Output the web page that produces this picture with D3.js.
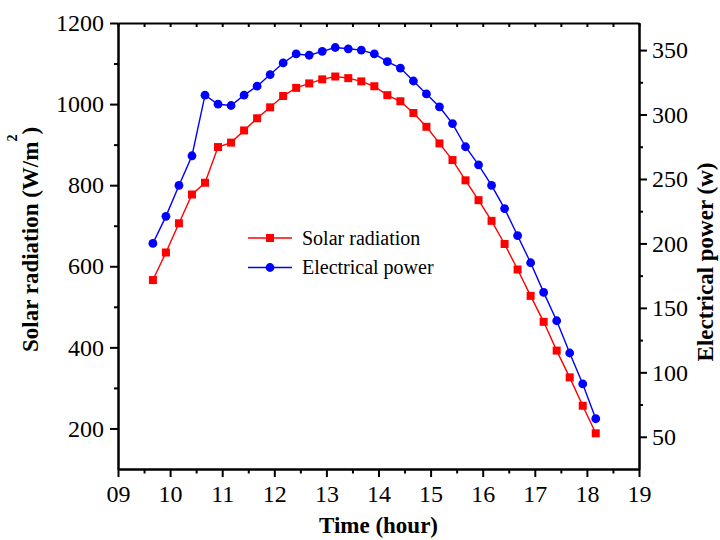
<!DOCTYPE html>
<html>
<head>
<meta charset="utf-8">
<script src="https://cdnjs.cloudflare.com/ajax/libs/d3/7.8.5/d3.min.js"></script>
<style>
  body { margin: 0; background: #fff; }
  text { font-family: "Liberation Serif", "Times New Roman", serif; }
</style>
</head>
<body>
<svg id="chart" width="720" height="540"></svg>
<script>

// time of day (hours), one reading every 15 min
var times = [9.67, 9.92, 10.17, 10.42, 10.67, 10.92, 11.17, 11.42, 11.67, 11.92,
             12.17, 12.42, 12.67, 12.92, 13.17, 13.42, 13.67, 13.92, 14.17, 14.42,
             14.67, 14.92, 15.17, 15.42, 15.67, 15.92, 16.17, 16.42, 16.67, 16.92,
             17.17, 17.42, 17.67, 17.92, 18.17]

// W/m2
var solarRadiation = [566, 634, 706, 777, 806, 894, 905, 935, 965, 992,
                      1020, 1040, 1051, 1061, 1068, 1064, 1056, 1044, 1022, 1007,
                      978, 944, 903, 862, 812, 763, 712, 655, 592, 527,
                      463, 392, 326, 256, 188]

// w
var electricalPower = [200, 221, 245, 268, 315, 308, 307, 315, 322, 331,
                       340, 347, 346, 349, 352, 351, 350, 347, 341, 336,
                       326, 316, 306, 293, 275, 261, 245, 227, 206, 185,
                       162, 140, 115, 91, 64]

var xTicks = [9, 10, 11, 12, 13, 14, 15, 16, 17, 18, 19]
var xMinor = [9.5, 10.5, 11.5, 12.5, 13.5, 14.5, 15.5, 16.5, 17.5, 18.5]
var leftTicks = [200, 400, 600, 800, 1000, 1200]
var leftMinor = [300, 500, 700, 900, 1100]
var rightTicks = [50, 100, 150, 200, 250, 300, 350]
var rightMinor = [75, 125, 175, 225, 275, 325]

var seriesNames = ["Solar radiation", "Electrical power"]
var seriesColors = ["#ff0000", "#0000ff"]

var plotLeft = 118, plotRight = 639, plotTop = 23, plotBottom = 469

var svg = d3.select("#chart")

var xScale = d3.scaleLinear()
    .domain([9, 19])
    .range([plotLeft, plotRight])

var yLeft = d3.scaleLinear()
    .domain([100, 1200])
    .range([plotBottom, plotTop])

var yRight = d3.scaleLinear()
    .domain([25, 371])
    .range([plotBottom, plotTop])

function styleAxis(g){
    g.attr("font-size", 24)
    g.selectAll("path, line").attr("stroke", "#000").attr("stroke-width", 2)
    g.selectAll("text").attr("fill", "#000")
        .style("font-family", '"Liberation Serif", "Times New Roman", serif')
}

// minor ticks first so the major ones sit on top
svg.append("g")
    .attr("transform", "translate(0," + plotBottom + ")")
    .call(d3.axisBottom(xScale).tickValues(xMinor).tickSize(4.5).tickFormat("").tickSizeOuter(0))
    .call(styleAxis)

svg.append("g")
    .attr("transform", "translate(0," + plotBottom + ")")
    .call(d3.axisBottom(xScale).tickValues(xTicks).tickSize(8).tickPadding(8)
          .tickFormat(d3.format("02d")).tickSizeOuter(0))
    .call(styleAxis)

// top frame with inward ticks
svg.append("g")
    .attr("transform", "translate(0," + plotTop + ")")
    .call(d3.axisBottom(xScale).tickValues(xTicks.concat(xMinor)).tickSize(4).tickFormat("").tickSizeOuter(0))
    .call(styleAxis)

svg.append("g")
    .attr("transform", "translate(" + plotLeft + ",0)")
    .call(d3.axisLeft(yLeft).tickValues(leftMinor).tickSize(4).tickFormat("").tickSizeOuter(0))
    .call(styleAxis)

svg.append("g")
    .attr("transform", "translate(" + plotLeft + ",0)")
    .call(d3.axisLeft(yLeft).tickValues(leftTicks).tickSize(8).tickPadding(6)
          .tickFormat(d3.format("d")).tickSizeOuter(0))
    .call(styleAxis)

svg.append("g")
    .attr("transform", "translate(" + plotRight + ",0)")
    .call(d3.axisRight(yRight).tickValues(rightMinor).tickSize(4).tickFormat("").tickSizeOuter(0))
    .call(styleAxis)

svg.append("g")
    .attr("transform", "translate(" + plotRight + ",0)")
    .call(d3.axisRight(yRight).tickValues(rightTicks).tickSize(8).tickPadding(5)
          .tickFormat(d3.format("d")).tickSizeOuter(0))
    .call(styleAxis)

// series
var solarData = times.map(function(t, i){ return [t, solarRadiation[i]] })
var powerData = times.map(function(t, i){ return [t, electricalPower[i]] })

svg.append("path")
    .datum(solarData)
    .attr("d", d3.line().x(function(d){ return xScale(d[0]) }).y(function(d){ return yLeft(d[1]) }))
    .attr("fill", "none")
    .attr("stroke", seriesColors[0])
    .attr("stroke-width", 1.4)

svg.append("path")
    .datum(powerData)
    .attr("d", d3.line().x(function(d){ return xScale(d[0]) }).y(function(d){ return yRight(d[1]) }))
    .attr("fill", "none")
    .attr("stroke", seriesColors[1])
    .attr("stroke-width", 1.4)

svg.selectAll(".sq").data(solarData).enter()
    .append("rect")
    .attr("class", "sq")
    .attr("x", function(d){ return xScale(d[0]) - 4 })
    .attr("y", function(d){ return yLeft(d[1]) - 4 })
    .attr("width", 8)
    .attr("height", 8)
    .attr("fill", seriesColors[0])

svg.selectAll(".dot").data(powerData).enter()
    .append("circle")
    .attr("class", "dot")
    .attr("cx", function(d){ return xScale(d[0]) })
    .attr("cy", function(d){ return yRight(d[1]) })
    .attr("r", 4.4)
    .attr("fill", seriesColors[1])

// legend
var legend = svg.append("g").attr("transform", "translate(248,238)")
seriesNames.forEach(function(name, i){
    var row = legend.append("g").attr("transform", "translate(0," + (i * 29.5) + ")")
    row.append("line")
        .attr("x1", 0).attr("x2", 44)
        .attr("stroke", seriesColors[i]).attr("stroke-width", 1.4)
    if(i == 0){
        row.append("rect").attr("x", 18).attr("y", -4).attr("width", 8).attr("height", 8)
            .attr("fill", seriesColors[i])
    } else {
        row.append("circle").attr("cx", 22).attr("r", 4.4).attr("fill", seriesColors[i])
    }
    row.append("text")
        .attr("x", 54)
        .attr("dy", "0.33em")
        .attr("font-size", 20)
        .text(name)
})

// axis titles
svg.append("text")
    .attr("x", (plotLeft + plotRight) / 2)
    .attr("y", 533)
    .attr("text-anchor", "middle")
    .attr("font-size", 23)
    .attr("font-weight", "bold")
    .text("Time (hour)")

var ylab = svg.append("text")
    .attr("transform", "translate(38,352) rotate(-90)")
    .attr("font-size", 23)
    .attr("font-weight", "bold")
ylab.append("tspan").text("Solar radiation (W/m")
ylab.append("tspan").attr("dy", -21).attr("font-size", 14).text("2")
ylab.append("tspan").attr("dy", 21).text(")")

svg.append("text")
    .attr("transform", "translate(713,262) rotate(-90)")
    .attr("text-anchor", "middle")
    .attr("font-size", 23)
    .attr("font-weight", "bold")
    .text("Electrical power (w)")

</script>
</body>
</html>
